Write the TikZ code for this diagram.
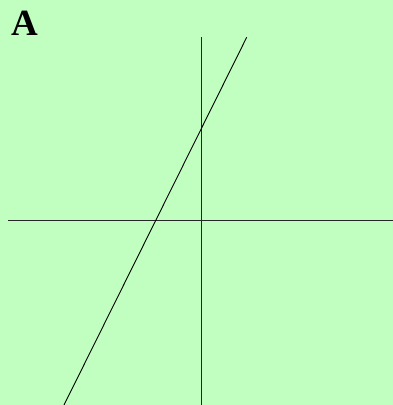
\documentclass[tikz,border=0pt]{standalone}
\usepackage{fontspec}
\setmainfont{Liberation Serif}
\definecolor{bggreen}{RGB}{192,255,192}
\begin{document}
\begin{tikzpicture}[x=1pt, y=1pt, line cap=butt, line join=round]
	\tikzset{axis style/.style={line width=0.9pt, black!85}}
	\fill[bggreen] (0,0) rectangle (393,405);
	\useasboundingbox (0,0) rectangle (393,405);
	\coordinate (xl) at (8,185);
	\coordinate (xr) at (393,185);
	\coordinate (yb) at (201.5,0);
	\coordinate (yt) at (201.5,368);
	\coordinate (lb) at (64,0);
	\coordinate (lt) at (246.7,367.7);
	\draw[axis style] (xl)--(xr);
	\draw[axis style] (yb)--(yt);
	\draw[line width=0.9pt] (lb)--(lt);
	\node[font=\fontsize{37}{40}\selectfont\bfseries] (label) at (25,382) {A};
\end{tikzpicture}
\end{document}
